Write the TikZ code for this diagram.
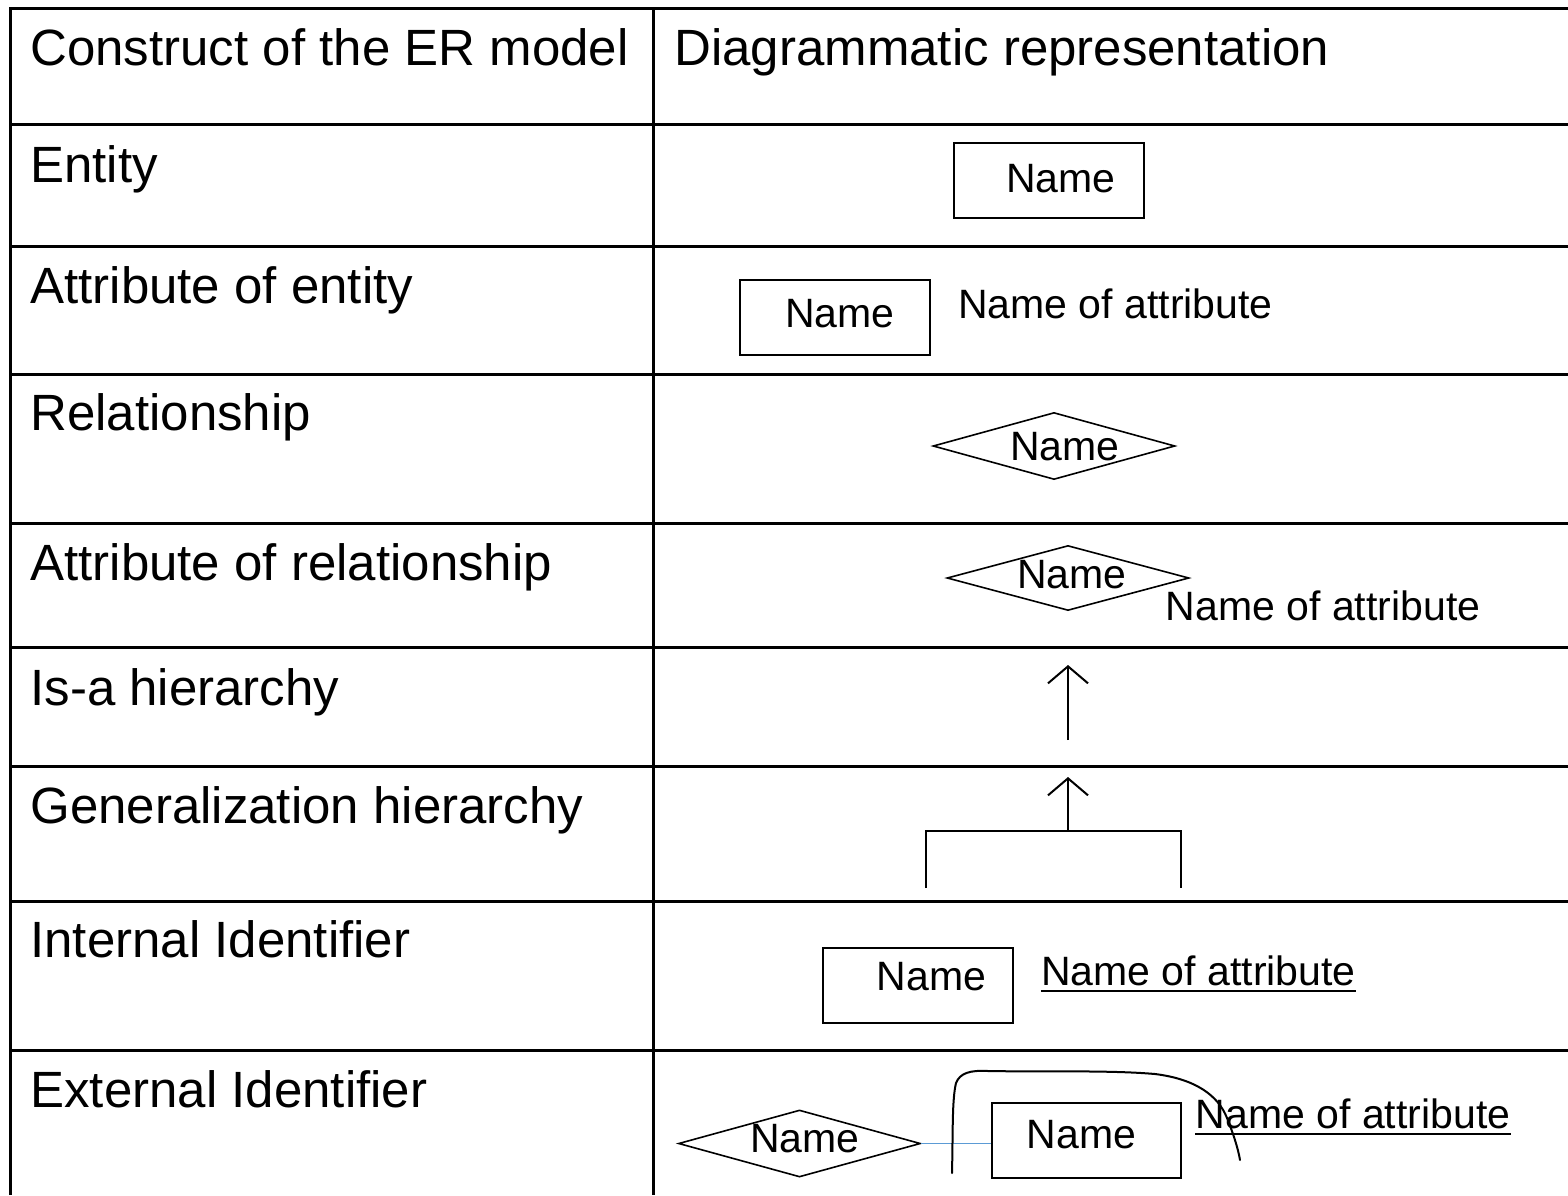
\documentclass[tikz,border=0pt]{standalone}
\usepackage{fontspec}
\setmainfont{Liberation Sans}
\usetikzlibrary{shapes.geometric,arrows.meta,calc}
\definecolor{linkblue}{RGB}{91,155,213}
\begin{document}
\begin{tikzpicture}[x=0.5pt,y=-0.5pt,
  rule/.style={line width=1.5pt},
  lbl/.style={anchor=base west,inner sep=0pt,font=\fontsize{25.5}{30}\selectfont},
  txt/.style={anchor=base,inner sep=0pt,font=\fontsize{20.5}{24}\selectfont},
  ent/.style={draw,line width=1pt,rectangle,minimum width=95pt,minimum height=37.5pt,inner sep=0pt},
  rel/.style={draw,line width=0.8pt,diamond,minimum width=121pt,minimum height=33.5pt,inner sep=0pt},
  isa/.style={line width=1pt,-{Straight Barb[length=8.5pt,width=20pt]}},
  uline/.style={line width=1.3pt},
  link/.style={draw=linkblue,line width=0.9pt}
]
\useasboundingbox (0,0) rectangle (1568,1195);

% table frame
\draw[rule] (10,1195) -- (10,8) -- (1568,8);
\draw[rule] (653,8) -- (653,1195);
\foreach \y in {124,246,374,523,647,766,901,1050}
  \draw[rule] (10,\y) -- (1568,\y);

% header
\node[lbl] (h1) at (30,65) {Construct of the ER model};
\node[lbl] (h2) at (674,65) {Diagrammatic representation};

% construct names
\node[lbl] (c1) at (30,182) {Entity};
\node[lbl] (c2) at (30,303) {Attribute of entity};
\node[lbl] (c3) at (30,430) {Relationship};
\node[lbl] (c4) at (30,580) {Attribute of relationship};
\node[lbl] (c5) at (30,705) {Is-a hierarchy};
\node[lbl] (c6) at (30,823) {Generalization hierarchy};
\node[lbl] (c7) at (30,957) {Internal Identifier};
\node[lbl] (c8) at (30,1107) {External Identifier};

% entity
\node[ent] (e1) at (1049,180.5) {};
\node[txt] (e1t) at (1061,192) {Name};

% attribute of entity
\node[ent] (e2) at (835,317) {};
\node[txt] (e2t) at (840,327) {Name};
\node[txt] (a2) at (1115.5,318) {Name of attribute};

% relationship
\node[rel] (r3) at (1054,446) {};
\node[txt] (r3t) at (1065,460) {Name};

% attribute of relationship
\node[rel,minimum height=32.5pt] (r4) at (1068,578) {};
\node[txt] (r4t) at (1072,588) {Name};
\node[txt] (a4) at (1323,620) {Name of attribute};

% is-a hierarchy
\coordinate (i5a) at (1068,740);
\coordinate (i5b) at (1068,665);
\draw[isa] (i5a) -- (i5b);

% generalization hierarchy
\coordinate (g6l) at (926,888);
\coordinate (g6r) at (1181,888);
\coordinate (g6m) at (1068,831);
\coordinate (g6t) at (1068,777);
\draw[line width=1pt] (g6l) |- (g6m) -| (g6r);
\draw[isa] (g6m) -- (g6t);

% internal identifier
\node[ent] (e7) at (918,985) {};
\node[txt] (e7t) at (931.5,990) {Name};
\node[txt] (a7) at (1198.5,985) {Name of attribute};
\draw[uline] ($(a7.base west)+(0,6)$) -- ($(a7.base east)+(0,6)$);

% external identifier
\node[rel] (r8) at (799.5,1143.5) {};
\node[txt] (r8t) at (805,1152) {Name};
\node[ent,minimum width=94.5pt] (e8) at (1086.5,1140.5) {};
\node[txt] (e8t) at (1081.5,1148) {Name};
\draw[link] (r8.east) -- (r8.east -| e8.west);
\node[txt] (a8) at (1353,1128) {Name of attribute};
\draw[uline] ($(a8.base west)+(0,6)$) -- ($(a8.base east)+(0,6)$);
\draw[line width=1pt,line cap=round]
  (952,1173) .. controls (953,1130) and (952,1100) .. (956,1083)
  .. controls (960,1073) and (970,1070) .. (988,1071)
  .. controls (1040,1072) and (1110,1070) .. (1155,1074)
  .. controls (1195,1079) and (1218,1095) .. (1227,1118)
  .. controls (1233,1133) and (1238,1148) .. (1240,1160);
\end{tikzpicture}
\end{document}
